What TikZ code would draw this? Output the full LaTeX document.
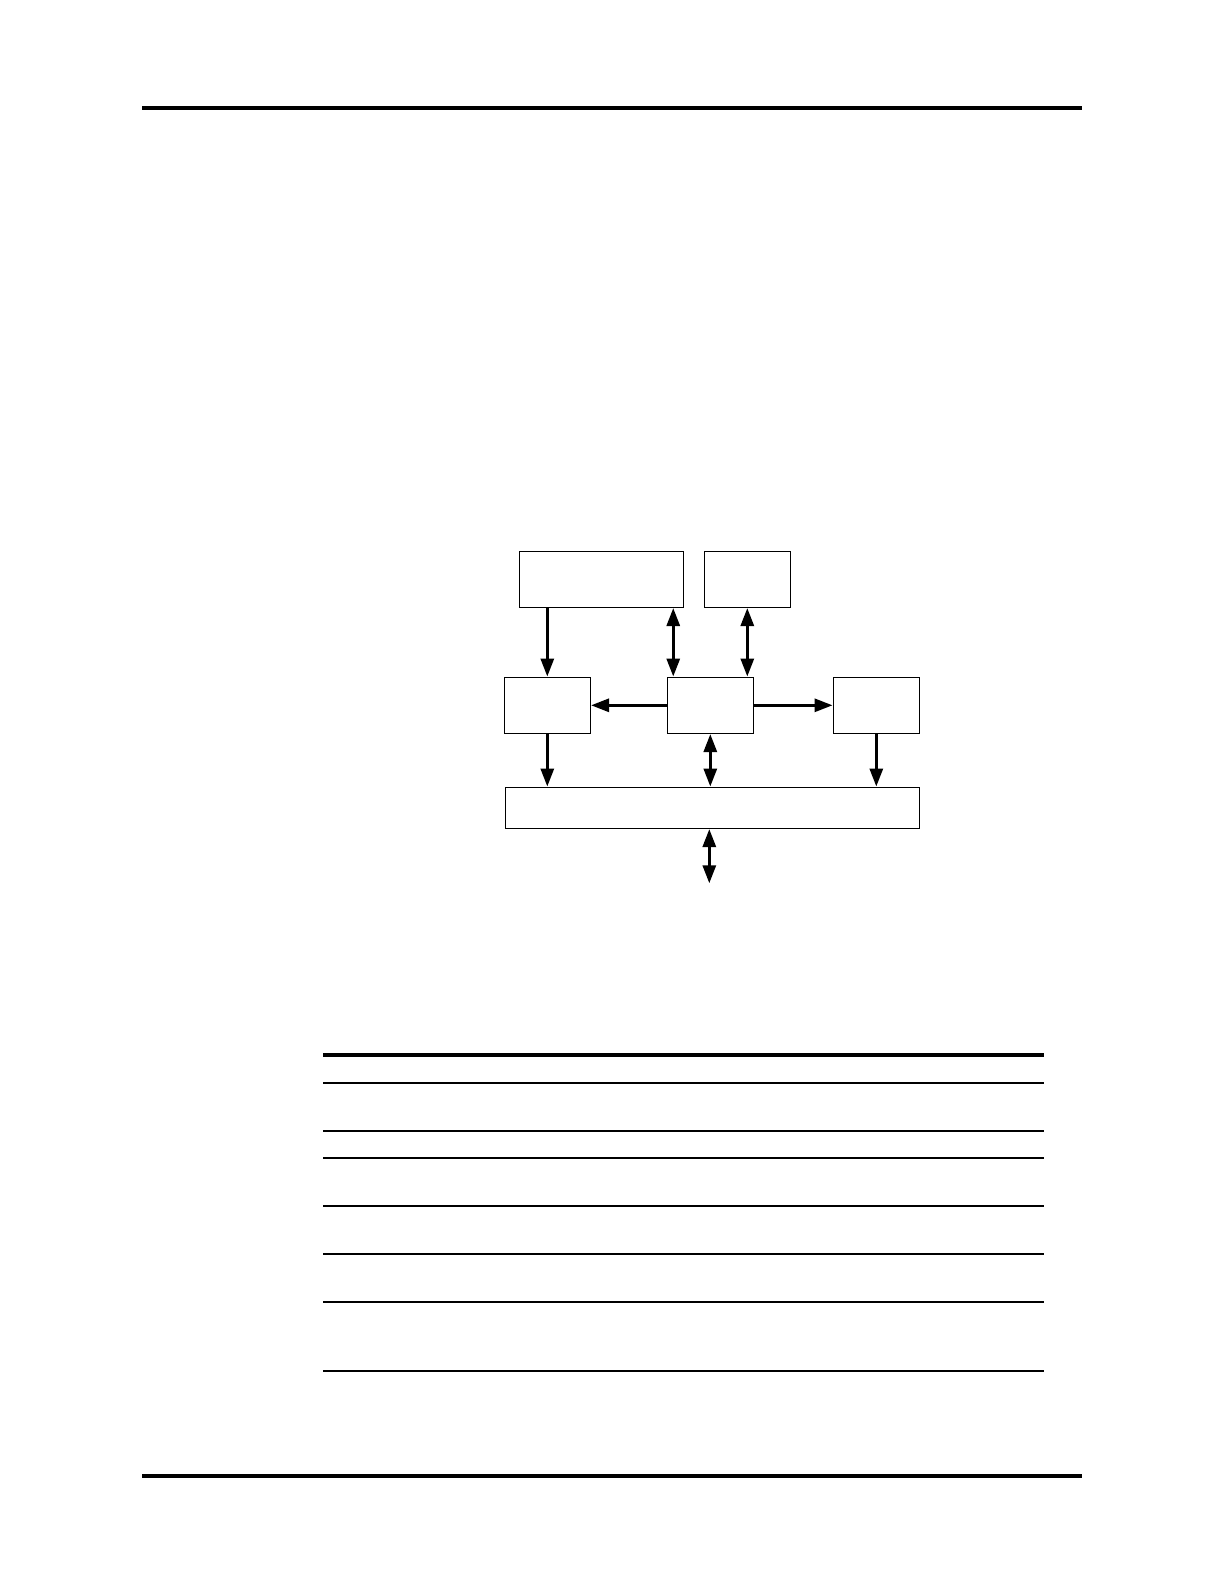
\documentclass[tikz,border=0pt]{standalone}
\usetikzlibrary{arrows.meta, positioning, calc}

\begin{document}
\begin{tikzpicture}[
    x=0.5pt, y=-0.5pt,
    block/.style={rectangle, draw, line width=0.75pt, inner sep=0pt, minimum width=43pt, minimum height=28pt},
    arrow/.style={line width=1.5pt, -{Triangle[length=9pt,width=6.5pt]}},
    bidir/.style={line width=1.5pt, {Triangle[length=9pt,width=6.5pt]}-{Triangle[length=9pt,width=6.5pt]}},
    rule/.style={line width=2pt},
    tabrule/.style={line width=1pt}
]
\useasboundingbox (0,0) rectangle (1224,1584);

% Page rules
\draw[rule] (142,107.7) -- (1082,107.7);
\draw[rule] (142,1475.7) -- (1082,1475.7);

% Top row
\node[block, minimum width=82pt] (memory) at (601.3,579.3) {};
\node[block] (clock) at (747.3,579.3) {};

% Middle row
\node[block] (left) at (547.3,705.3) {};
\node[block] (core) at (710.3,705.3) {};
\node[block] (right) at (876.3,705.3) {};

% Bus
\node[block, minimum width=207pt, minimum height=20.5pt] (bus) at (712.3,807.8) {};
\coordinate (ext) at (709.3,883.3);

% Connections from the top row
\draw[arrow] (memory.south -| left.north) -- (left.north);
\draw[bidir] ([xshift=3.35pt]core.north west |- memory.south) -- ([xshift=3.35pt]core.north west);
\draw[bidir] (clock.south) -- (clock.south |- core.north);

% Middle row connections
\draw[arrow] (core.west) -- (left.east);
\draw[arrow] (core.east) -- (right.west);

% Connections to the bus
\draw[arrow] (left.south) -- (left.south |- bus.north);
\draw[bidir] (core.south) -- (core.south |- bus.north);
\draw[arrow] (right.south) -- (right.south |- bus.north);
\draw[bidir] (bus.south -| ext) -- (ext);

% Table rules
\draw[line width=1.85pt] (323,1054.8) -- (1043.7,1054.8);
\foreach \y in {1083,1131.3,1158.3,1206.3,1254.3,1302.3,1371.3}
    \draw[tabrule] (323,\y) -- (1043.7,\y);

\end{tikzpicture}
\end{document}
